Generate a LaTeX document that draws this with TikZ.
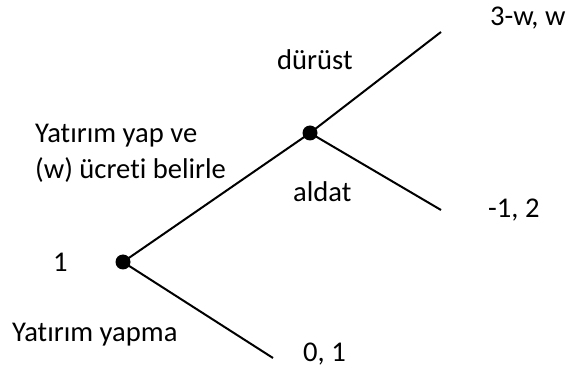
\documentclass[tikz,border=0pt]{standalone}
\usepackage{fontspec}
\setmainfont{Carlito}[Ligatures=NoCommon]
\begin{document}
\begin{tikzpicture}[x=1pt,y=-1pt,
  dot/.style={circle,fill=black,inner sep=0pt,minimum size=15pt},
  lbl/.style={anchor=base west,inner sep=0pt,font=\fontsize{28.6}{34}\selectfont},
  edge/.style={line width=2pt}]
\useasboundingbox (0,0) rectangle (571,374);
\node[dot] (n1) at (123,262) {};
\node[dot] (n2) at (310,133) {};
\coordinate (e1) at (441,32);
\coordinate (e2) at (441,210);
\coordinate (e3) at (273,358);
\draw[edge] (n1.center) -- (n2.center);
\draw[edge] (n2.center) -- (e1);
\draw[edge] (n2.center) -- (e2);
\draw[edge] (n1.center) -- (e3);
\node[lbl] (t1) at (490,26) {3-w, w};
\node[lbl] (t2) at (277,70) {dürüst};
\node[lbl] (t3) at (35,143) {Yatırım yap ve};
\node[lbl] (t4) at (35,179) {(w) ücreti belirle};
\node[lbl] (t5) at (293,202) {aldat};
\node[lbl] (t6) at (488,218) {-1, 2};
\node[lbl] (t7) at (53,272) {1};
\node[lbl] (t8) at (12,342) {Yatırım yapma};
\node[lbl] (t9) at (303,362) {0, 1};
\end{tikzpicture}
\end{document}
